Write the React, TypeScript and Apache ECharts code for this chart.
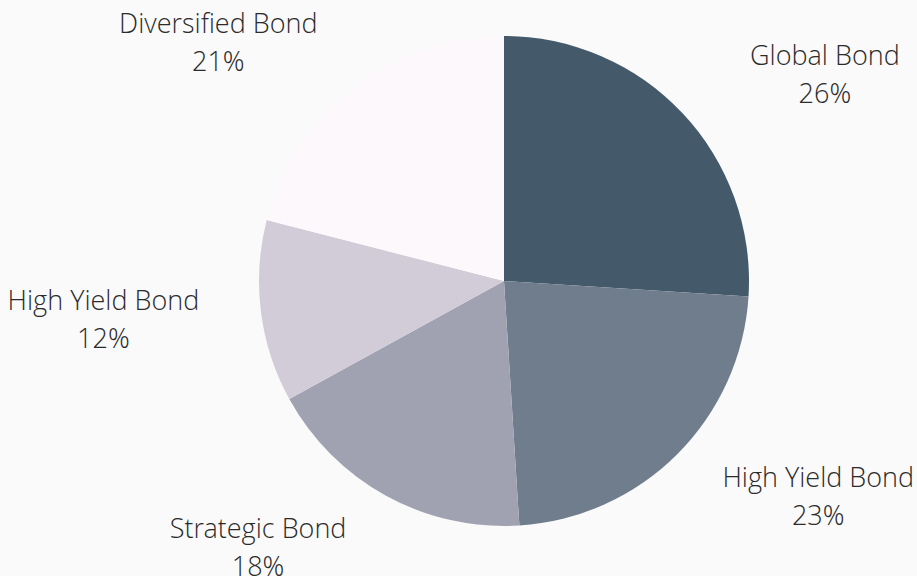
import React, { useEffect, useRef } from "react";
import * as echarts from "echarts";

const categories = ["Global Bond", "High Yield Bond", "Strategic Bond", "High Yield Bond", "Diversified Bond"];
const values = [26, 23, 18, 12, 21];
const colors = ["#445a6a", "#707d8d", "#a1a2b1", "#d2ccd8", "#fdf8fc"];

export default function App() {
  const ref = useRef<HTMLDivElement>(null);
  useEffect(() => {
    if (!ref.current) return;
    const chart = echarts.init(ref.current, undefined, { renderer: "svg" });
    chart.setOption({
      animation: false,
      backgroundColor: "#fafafa",
      series: [
        {
          type: "pie",
          center: [504, 281],
          radius: [0, 245],
          startAngle: 90,
          clockwise: true,
          avoidLabelOverlap: false,
          data: categories.map((name, i) => ({
            name,
            value: values[i],
            itemStyle: { color: colors[i] },
          })),
          label: {
            show: true,
            position: "outside",
            formatter: (p: any) => `${p.name}\n${Math.round(p.percent)}%`,
            fontFamily: "'Open Sans Light', 'Open Sans'",
            fontWeight: 300,
            fontSize: 27,
            lineHeight: 38,
            color: "#2b2b2b",
          },
          labelLine: { show: true, length: 58, length2: 0, lineStyle: { opacity: 0 } },
          labelLayout: (params: any) => {
            const pts = params.labelLinePoints;
            if (!pts) return {};
            const p = pts[1];
            const dir = p[0] >= pts[0][0] ? 1 : -1;
            return { x: p[0] + dir * 100, y: p[1], align: "center", verticalAlign: "middle" };
          },
          emphasis: { disabled: true },
        },
      ],
    });
    return () => chart.dispose();
  }, []);
  return (
    <div
      ref={ref}
      style={{ position: "fixed", left: 0, top: 0, width: 917, height: 576 }}
    />
  );
}
